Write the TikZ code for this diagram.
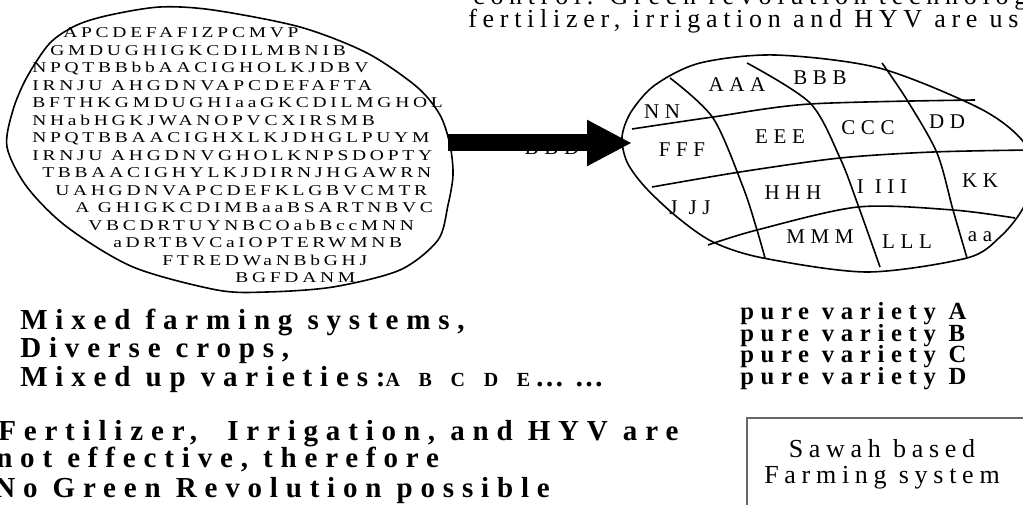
\documentclass[tikz,border=0pt]{standalone}
\usepackage{fontspec}
\setmainfont{Liberation Serif}
\newfontfamily\wide[FakeStretch=1.3,LetterSpace=25]{Liberation Serif}
\newfontfamily\spaced[LetterSpace=27]{Liberation Serif}
\newfontfamily\loose[LetterSpace=22]{Liberation Serif}
\usetikzlibrary{arrows.meta}

\begin{document}
\begin{tikzpicture}[x=0.75pt,y=-0.75pt,
    every node/.style={inner sep=0pt},
    rim/.style={line width=1.2pt},
    mass/.style={font=\wide\fontsize{11.25}{13}\selectfont, anchor=base west},
    field/.style={font=\spaced\fontsize{15.75}{18}\selectfont},
    note/.style={font=\loose\fontsize{19.5}{19.5}\selectfont, anchor=base west},
    slogan/.style={font=\spaced\bfseries\fontsize{21.75}{24}\selectfont, anchor=base west},
    pure/.style={font=\spaced\bfseries\fontsize{18.5}{19}\selectfont, anchor=base west},
    bigarrow/.style={line width=12.75pt, -{Triangle[length=33.75pt,width=32.25pt]}}]
   \useasboundingbox (0,0) rectangle (1023,505);
   \clip (0,0) rectangle (1023,505);

   % mixed field
   \draw[rim] plot[smooth cycle] coordinates {(7,147) (13,110) (27,77) (50,43) (77,25)
      (110,15) (160,7) (213,10) (300,27) (367,53) (417,87) (440,115) (450,145)
      (453,175) (448,205) (438,240) (400,270) (333,287) (267,292) (217,290)
      (133,267) (67,227) (27,187)};
   \foreach \x/\s [count=\i] in {63/APCDEFAFIZPCMVP, 50/GMDUGHIGKCDILMBNIB,
      32/NPQTBBbbAACIGHOLKJDBV, 32/IRNJU AHGDNVAPCDEFAFTA,
      32/BFTHKGMDUGHIaaGKCDILMGHOL, 32/NHabHGKJWANOPVCXIRSMB,
      32/NPQTBBAACIGHXLKJDHGLPUYM, 32/IRNJU AHGDNVGHOLKNPSDOPTY,
      42/TBBAACIGHYLKJDIRNJHGAWRN, 55/UAHGDNVAPCDEFKLGBVCMTR,
      75/A GHIGKCDIMBaaBSARTNBVC, 88/VBCDRTUYNBCOabBccMNN,
      113/aDRTBVCaIOPTERWMNB, 162/FTREDWaNBbGHJ, 235/BGFDANM}
      \node[mass] (m\i) at (\x,20.5+17.5*\i) {\s};

   % sawah field
   \draw[rim] plot[smooth cycle] coordinates {(622,137) (631,112) (655,85) (700,63)
      (775,55) (879,68) (979,108) (1022,140) (1036,175) (1022,210) (1000,237)
      (967,258) (867,272) (763,258) (713,242) (677,217) (645,187) (627,162)};
   \draw[rim] plot[smooth] coordinates {(632,129) (713,117) (810,104) (975,100)};
   \draw[rim] plot[smooth] coordinates {(652,187) (740,172) (840,158) (933,152) (1030,150)};
   \draw[rim] plot[smooth] coordinates {(708,245) (757,230) (858,207) (953,210) (1015,218)};
   \draw[rim] plot[smooth] coordinates {(670,78) (713,118) (743,187) (757,230) (765,258)};
   \draw[rim] plot[smooth] coordinates {(747,63) (810,103) (840,158) (858,205) (880,267)};
   \draw[rim] plot[smooth] coordinates {(882,63) (907,100) (937,153) (953,210) (967,258)};

   \node[field] (NN)  at (662,112) {NN};
   \node[field] (AAA) at (737,85)  {AAA};
   \node[field] (BBB) at (820,78)  {BBB};
   \node[field] (EEE) at (780,137) {EEE};
   \node[field] (CCC) at (868,128) {CCC};
   \node[field] (DD)  at (947,122) {DD};
   \node[field] (FFF) at (682,150) {FFF};
   \node[field] (KK)  at (980,181) {KK};
   \node[field] (HHH) at (793,193) {HHH};
   \node[field] (III) at (882,187) {I III};
   \node[field] (JJJ) at (690,208) {J JJ};
   \node[field] (MMM) at (820,237) {MMM};
   \node[field] (LLL) at (907,242) {LLL};
   \node[field] (aa)  at (980,237) {aa};
   \node[field] (BBD) at (552,148) {BBD};

   \coordinate (tail) at (448,143);
   \coordinate (tip) at (632,143);
   \draw[bigarrow] (tail) -- (tip);

   \node[note] (ctl) at (473,5)  {control. Green revolution technology:};
   \node[note] (fer) at (468,28) {fertilizer, irrigation and HYV are used};

   \node[slogan] (mix1) at (20,330) {Mixed farming systems,};
   \node[slogan] (mix2) at (20,358) {Diverse crops,};
   \node[slogan] (mix3) at (20,387) {Mixed up varieties:{\fontsize{15}{17}\selectfont
      A\hspace{14pt}B\hspace{14pt}C\hspace{14pt}D\hspace{14pt}E}\,…\hspace{8pt}…};
   \node[slogan] (fert1) at (-2,440) {Fertilizer,\ \ Irrigation, and HYV are};
   \node[slogan] (fert2) at (-4,467) {not effective, therefore};
   \node[slogan] (fert3) at (-6,497) {No Green Revolution possible};

   \foreach \v [count=\i] in {A,B,C,D}
      \node[pure] (p\v) at (740,298.5+21.5*\i) {pure variety \v};

   \draw[black!60, line width=0.9pt] (747,418) rectangle (1040,515);
   \node[note, anchor=center, align=center] (sawah) at (882,464) {Sawah based\\Farming system};
\end{tikzpicture}
\end{document}
